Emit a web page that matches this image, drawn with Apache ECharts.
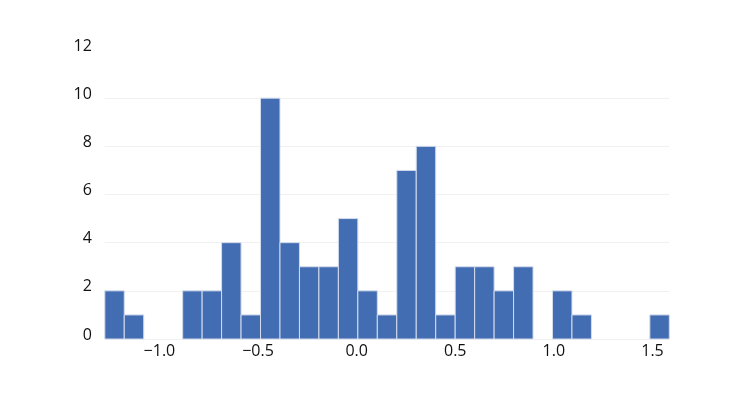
<!DOCTYPE html>
<html>
<head>
<meta charset="utf-8">
<script src="https://cdn.jsdelivr.net/npm/echarts@6/dist/echarts.min.js"></script>
<style>
html,body{margin:0;padding:0;background:#fff;}
#chart{width:737px;height:401px;}
</style>
</head>
<body>
<div id="chart"></div>
<script>
// Histogram data
const binStart = -1.277;
const binWidth = 0.0987;
const counts = [2, 1, 0, 0, 2, 2, 4, 1, 10, 4, 3, 3, 5, 2, 1, 7, 8, 1, 3, 3, 2, 3, 0, 2, 1, 0, 0, 0, 1];
const xTickValues = [-1.0, -0.5, 0.0, 0.5, 1.0, 1.5];
const yTickValues = [0, 2, 4, 6, 8, 10, 12];

const bins = counts.map((c, i) => [binStart + i * binWidth, binStart + (i + 1) * binWidth, c]);

const chart = echarts.init(document.getElementById('chart'), null, {renderer: 'canvas'});
const fontFamily = '"Open Sans", "Noto Sans", sans-serif';

chart.setOption({
  animation: false,
  backgroundColor: '#ffffff',
  grid: {left: 104.8, right: 67.7, top: 50, bottom: 62},
  xAxis: {
    type: 'value',
    min: binStart,
    max: binStart + counts.length * binWidth,
    axisLine: {show: false},
    axisTick: {show: false},
    splitLine: {show: false},
    axisLabel: {
      customValues: xTickValues,
      color: '#111',
      fontSize: 16,
      fontFamily: fontFamily,
      margin: 4,
      formatter: v => (v < 0 ? '\u2212' + Math.abs(v).toFixed(1) : v.toFixed(1))
    }
  },
  yAxis: {
    type: 'value',
    min: yTickValues[0],
    max: yTickValues[yTickValues.length - 1],
    interval: 2,
    axisLine: {show: false},
    axisTick: {show: false},
    splitLine: {show: true, showMaxLine: false, lineStyle: {color: '#f1f1f1', width: 1}},
    axisLabel: {
      color: '#111',
      fontSize: 16,
      fontFamily: fontFamily,
      margin: 13,
      verticalAlign: 'bottom',
      lineHeight: 8
    }
  },
  series: [{
    type: 'custom',
    data: bins,
    encode: {x: [0, 1], y: 2},
    renderItem: function (params, api) {
      const x0 = api.value(0), x1 = api.value(1), c = api.value(2);
      if (c <= 0) return null;
      const p0 = api.coord([x0, c]);
      const p1 = api.coord([x1, 0]);
      return {
        type: 'rect',
        shape: {x: p0[0], y: p0[1], width: p1[0] - p0[0], height: p1[1] - p0[1]},
        style: {fill: '#436db2', stroke: '#d4dcec', lineWidth: 1}
      };
    }
  }]
});
</script>
</body>
</html>
